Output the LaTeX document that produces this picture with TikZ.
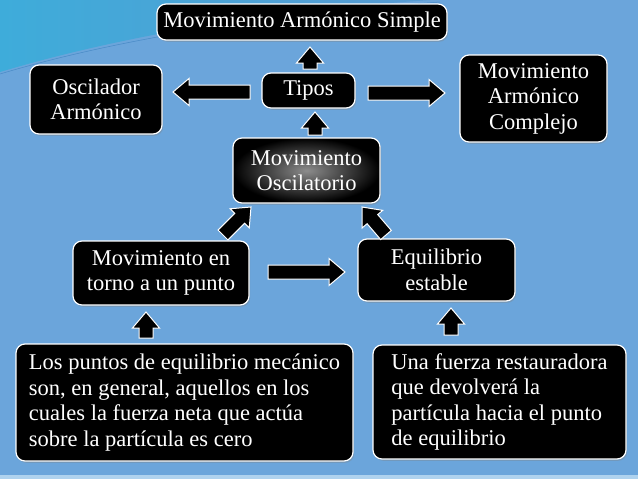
\documentclass[tikz,border=0pt]{standalone}
\usepackage{fontspec}
\setmainfont{Liberation Serif}
\usetikzlibrary{calc,shadows}
\definecolor{bg}{RGB}{107,165,219}
\definecolor{bgcyan}{RGB}{62,172,218}
\definecolor{bgdark}{RGB}{88,154,210}
\definecolor{bgline}{RGB}{72,138,198}
\definecolor{bgstrip}{RGB}{175,210,238}
\begin{document}
\begin{tikzpicture}[x=1pt,y=-1pt,
  box/.style={draw=white, line width=1.2pt, fill=black, rounded corners=9pt,
    text=white, font=\fontsize{22.5}{25.5}\selectfont, align=center, inner sep=2pt,
    drop shadow={shadow xshift=1.2pt, shadow yshift=-1.8pt, opacity=0.35}},
  blockarrow/.style={fill=black, draw=white, line width=1pt, line join=miter,
    to path={let \p1=($(\tikztotarget)!16pt!(\tikztostart)$) in
      ($(\tikztostart)!7pt!-90:(\tikztotarget)$)
      -- ($(\p1)!7pt!-90:(\tikztotarget)$)
      -- ($(\p1)!13.5pt!-90:(\tikztotarget)$)
      -- (\tikztotarget)
      -- ($(\p1)!13.5pt!90:(\tikztotarget)$)
      -- ($(\p1)!7pt!90:(\tikztotarget)$)
      -- ($(\tikztostart)!7pt!90:(\tikztotarget)$)
      -- cycle}}]
% background
\fill[bg] (0,0) rectangle (638,479);
\useasboundingbox (0,0) rectangle (638,479);
\shade[left color=bgcyan, right color=bgdark]
  (0,0) -- (0,72) .. controls (90,45) and (230,14) .. (430,0) -- cycle;
\draw[bgline, line width=0.5pt] (0,74) .. controls (90,47) and (230,18) .. (440,2);
\fill[bgstrip] (0,475) rectangle (638,479);

% nodes
\node[box, minimum width=290pt, minimum height=36pt] (mas) at (302,22) {Movimiento Armónico Simple};
\node[box, minimum width=132pt, minimum height=69pt] (osc) at (96,99.5) {Oscilador\\Armónico};
\node[box, minimum width=93pt, minimum height=35pt] (tipos) at (308.5,90.5) {Tipos};
\node[box, minimum width=147pt, minimum height=87pt] (compl) at (533.5,98.5) {Movimiento\\Armónico\\Complejo};
\node[box, minimum width=147pt, minimum height=65pt, shading=radial, inner color=black!45, outer color=black] (oscil) at (306.5,170.5) {Movimiento\\Oscilatorio};
\node[box, minimum width=176pt, minimum height=64pt] (torno) at (161,273) {Movimiento en\\torno a un punto};
\node[box, minimum width=157pt, minimum height=62pt] (equil) at (436.5,270) {Equilibrio\\estable};
\node[box, align=left, minimum width=337pt, minimum height=117pt] (puntos) at (184.5,402.5)
  {Los puntos de equilibrio mecánico\\son, en general, aquellos en los\\cuales la fuerza neta que actúa\\sobre la partícula es cero};
\node[box, align=left, minimum width=253pt, minimum height=114pt] (fuerza) at (499.5,402)
  {Una fuerza restauradora\\que devolverá la\\partícula hacia el punto\\de equilibrio};

% arrow end points
\coordinate (a1s) at (250,92);  \coordinate (a1e) at (173,92);
\coordinate (a2s) at (368,93);  \coordinate (a2e) at (445,93);
\coordinate (a3s) at (310,69);  \coordinate (a3e) at (310,47);
\coordinate (a4s) at (315,135); \coordinate (a4e) at (315,112);
\coordinate (a5s) at (223,235); \coordinate (a5e) at (251,207);
\coordinate (a6s) at (386,235); \coordinate (a6e) at (362,207);
\coordinate (a7s) at (268,272); \coordinate (a7e) at (345,272);
\coordinate (a8s) at (146,338); \coordinate (a8e) at (146,312);
\coordinate (a9s) at (451,335); \coordinate (a9e) at (451,308);

% arrows
\draw[blockarrow] (a1s) to (a1e);
\draw[blockarrow] (a2s) to (a2e);
\draw[blockarrow] (a3s) to (a3e);
\draw[blockarrow] (a4s) to (a4e);
\draw[blockarrow] (a5s) to (a5e);
\draw[blockarrow] (a6s) to (a6e);
\draw[blockarrow] (a7s) to (a7e);
\draw[blockarrow] (a8s) to (a8e);
\draw[blockarrow] (a9s) to (a9e);
\end{tikzpicture}
\end{document}
